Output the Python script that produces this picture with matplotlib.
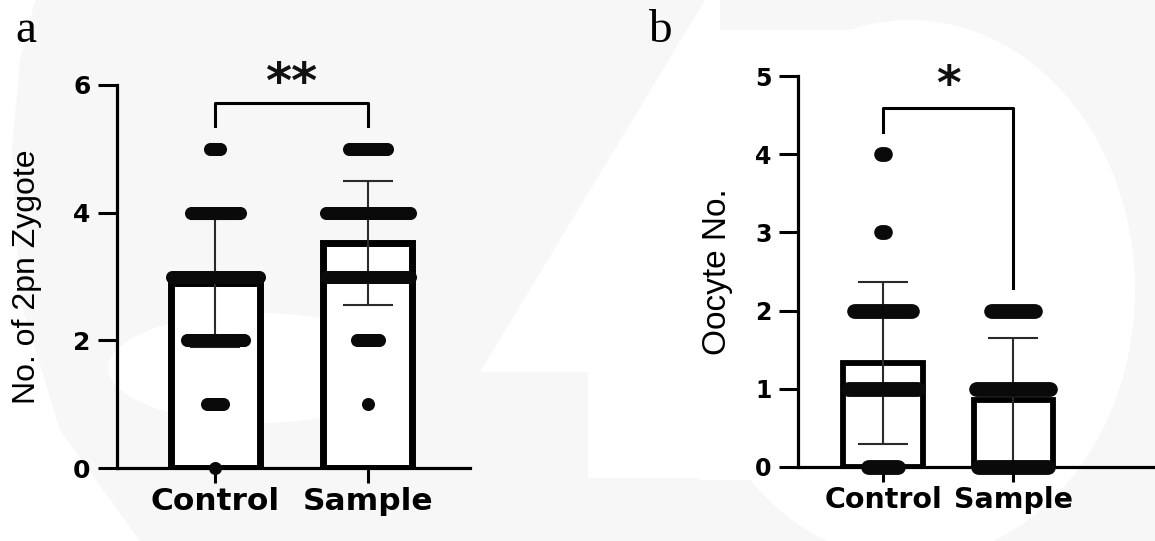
import matplotlib
matplotlib.use('Agg')
import matplotlib.pyplot as plt
import numpy as np
from matplotlib import font_manager
from matplotlib.patches import Ellipse, Polygon

# ---------------- data ----------------
groups = ['Control', 'Sample']

# panel a: number of 2pn zygotes (count of animals at each value)
a_levels = [0, 1, 2, 3, 4, 5]
a_counts_control = [1, 9, 29, 44, 25, 6]
a_counts_sample = [0, 1, 12, 43, 43, 20]
a_mean = [2.9, 3.52]
a_sd = [1.0, 0.97]
a_yticks = [0, 2, 4, 6]
a_ylabel = 'No. of 2pn Zygote'
a_sig = '**'

# panel b: oocyte number
b_levels = [0, 1, 2, 3, 4]
b_counts_control = [16, 36, 30, 3, 3]
b_counts_sample = [36, 38, 23, 0, 0]
b_mean = [1.33, 0.86]
b_sd = [1.03, 0.79]
b_yticks = [0, 1, 2, 3, 4, 5]
b_ylabel = 'Oocyte No.'
b_sig = '*'

# ---------------- fonts ----------------
names = {f.name for f in font_manager.fontManager.ttflist}
label_family = 'Liberation Sans Narrow' if 'Liberation Sans Narrow' in names else 'Liberation Sans'
narrow = label_family == 'Liberation Sans Narrow'

W, H = 1155, 541
fig = plt.figure(figsize=(W / 100, H / 100), dpi=100)
fig.patch.set_facecolor('#f7f7f7')

# faint watermark-like background shapes
bg = fig.add_axes([0, 0, 1, 1], zorder=-10)
bg.set_xlim(0, W); bg.set_ylim(H, 0); bg.axis('off')
white = dict(facecolor='white', edgecolor='none')
bg.add_patch(Polygon([(0, 0), (35, 0), (20, 60), (12, 150), (20, 300), (60, 430),
                      (140, 541), (0, 541)], closed=True, **white))
bg.add_patch(Ellipse((258, 368), 300, 110, **white))
bg.add_patch(Polygon([(705, 0), (480, 372), (588, 372), (588, 478), (720, 478),
                      (720, 0)], closed=True, **white))
bg.add_patch(Ellipse((910, 290), 450, 540, **white))
bg.add_patch(Polygon([(700, 30), (700, 480), (860, 480), (860, 30)], closed=True, **white))


def px_axes(l, r, b, t):
    return fig.add_axes([l / W, 1 - b / H, (r - l) / W, (b - t) / H])


def panel(ax, levels, counts, mean, sd, yticks, ylabel, ylim, xlim, bar_w, bar_lw,
          spacing, ms, tick_fs, xtick_fs, cap, label_fs):
    x = np.arange(len(groups))
    ax.set_xlim(*xlim)
    ax.set_ylim(*ylim)
    ax.patch.set_alpha(0)
    ax.bar(x, mean, width=bar_w, facecolor='white', edgecolor='black',
           linewidth=bar_lw, zorder=2, joinstyle='miter')
    ax.errorbar(x, mean, yerr=sd, fmt='none', ecolor='#2a2a2a', elinewidth=1.5,
                capsize=cap, capthick=1.5, zorder=3)
    for i, cnts in enumerate(counts):
        for v, n in zip(levels, cnts):
            if n == 0:
                continue
            offs = (np.arange(n) - (n - 1) / 2) * spacing
            ax.plot(x[i] + offs, [v] * n, 'o', color='#0a0a0a', ms=ms, mew=0,
                    zorder=4, clip_on=False)
    for s in ['top', 'right']:
        ax.spines[s].set_visible(False)
    for s in ['left', 'bottom']:
        ax.spines[s].set_linewidth(2.3)
    ax.set_yticks(yticks)
    ax.set_yticklabels([str(t) for t in yticks], fontsize=tick_fs,
                       fontweight='bold', family='DejaVu Sans')
    ax.set_xticks(x)
    ax.set_xticklabels(groups, fontsize=xtick_fs, fontweight='bold',
                       family='DejaVu Sans')
    ax.tick_params(axis='y', length=14, width=2.2, pad=5)
    ax.tick_params(axis='x', length=11, width=2.2, pad=3)
    ax.set_ylabel(ylabel, fontsize=label_fs, family=label_family)


# panel a
axa = px_axes(117, 470, 468, 85)
panel(axa, a_levels, [a_counts_control, a_counts_sample], a_mean, a_sd, a_yticks,
      a_ylabel, (0, 6), (-0.645, 1.67), 0.585, 5.0, 0.0132, 9.4, 18, 22.5, 18,
      28 if narrow else 23)
axa.yaxis.set_label_coords(-0.212, 0.5)
axa.plot([0, 0, 1, 1], [5.35, 5.72, 5.72, 5.35], color='black', lw=2.2,
         clip_on=False, zorder=5)
axa.text(0.5, 6.02, a_sig, ha='center', va='center', fontsize=36,
         fontweight='bold', color='#111111', clip_on=False)

# panel b
axb = px_axes(798, 1155, 467, 76)
panel(axb, b_levels, [b_counts_control, b_counts_sample], b_mean, b_sd, b_yticks,
      b_ylabel, (0, 5), (-0.654, 2.09), 0.61, 4.2, 0.0154, 10.5, 17, 20.5, 18,
      28 if narrow else 24)
axb.yaxis.set_label_coords(-0.182, 0.5)
axb.plot([0, 0, 1, 1], [4.28, 4.59, 4.59, 2.29], color='black', lw=2.2,
         clip_on=False, zorder=5)
axb.text(0.5, 4.86, b_sig, ha='center', va='center', fontsize=34,
         fontweight='bold', color='#111111', clip_on=False)

# panel letters
fig.text(15 / W, 1 - 42 / H, 'a', family='Liberation Serif', fontsize=34,
         va='baseline', ha='left')
fig.text(648 / W, 1 - 42 / H, 'b', family='Liberation Serif', fontsize=34,
         va='baseline', ha='left')

fig.savefig('out.png', dpi=100, facecolor=fig.get_facecolor())
